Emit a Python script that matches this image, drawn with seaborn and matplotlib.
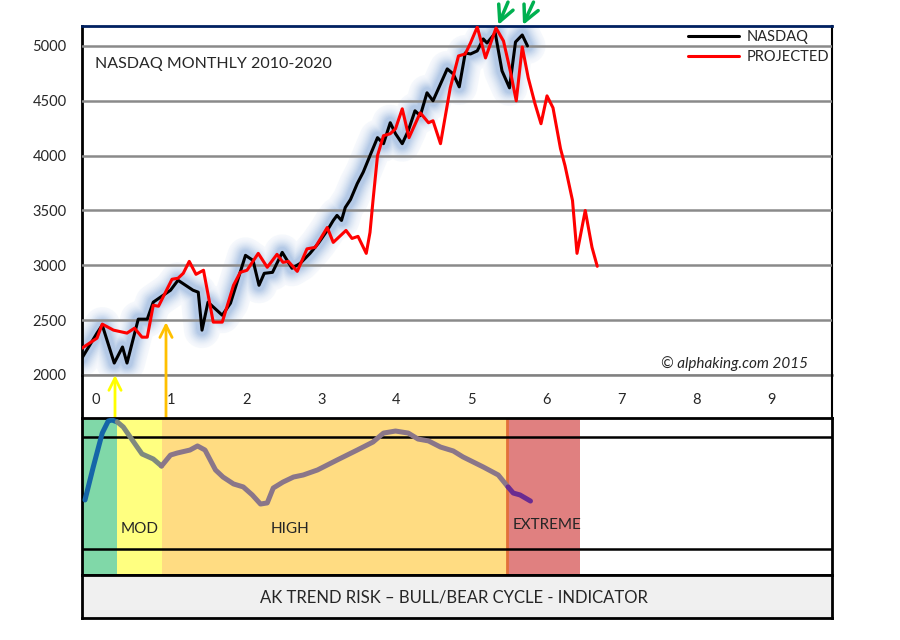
import numpy as np
import pandas as pd
import matplotlib.pyplot as plt
from matplotlib.colors import to_rgb
from matplotlib.ticker import MultipleLocator
import seaborn as sns

# ---- data (x in years from 2010, y = index level) ----
nasdaq_x = [-0.19, 0.01, 0.08, 0.24, 0.35, 0.41, 0.56, 0.68, 0.76, 0.99, 1.09, 1.29, 1.36,
            1.41, 1.49, 1.68, 1.79, 1.99, 2.09, 2.17, 2.24, 2.35, 2.48, 2.61, 2.72, 2.85,
            2.96, 3.08, 3.16, 3.21, 3.27, 3.32, 3.39, 3.48, 3.56, 3.65, 3.75, 3.83, 3.92,
            3.99, 4.08, 4.16, 4.25, 4.32, 4.41, 4.49, 4.68, 4.76, 4.84, 4.92, 4.99, 5.08,
            5.16, 5.21, 5.32, 5.41, 5.51, 5.59, 5.68, 5.75]
nasdaq_y = [2155, 2382, 2455, 2109, 2255, 2109, 2509, 2509, 2664, 2773, 2864, 2773, 2755,
            2409, 2664, 2545, 2655, 3091, 3045, 2818, 2927, 2936, 3118, 2973, 3018, 3109,
            3200, 3318, 3409, 3455, 3409, 3527, 3600, 3745, 3850, 4000, 4164, 4109, 4300,
            4200, 4109, 4227, 4409, 4364, 4573, 4500, 4791, 4745, 4627, 4936, 4927, 4955,
            5064, 5027, 5118, 4773, 4618, 5036, 5100, 5000]

proj_x = [-0.19, 0.01, 0.08, 0.23, 0.41, 0.51, 0.61, 0.68, 0.76, 0.83, 1.01, 1.09, 1.16,
          1.24, 1.33, 1.43, 1.56, 1.68, 1.83, 1.92, 2.01, 2.16, 2.28, 2.41, 2.49, 2.56,
          2.68, 2.81, 2.92, 3.08, 3.16, 3.33, 3.41, 3.49, 3.60, 3.65, 3.69, 3.75, 3.83,
          3.92, 3.99, 4.08, 4.17, 4.32, 4.43, 4.49, 4.59, 4.72, 4.83, 4.92, 4.99, 5.08,
          5.19, 5.33, 5.43, 5.52, 5.60, 5.68, 5.76, 5.85, 5.93, 6.01, 6.09, 6.19, 6.25,
          6.35, 6.41, 6.52, 6.61, 6.68]
proj_y = [2245, 2336, 2464, 2409, 2382, 2427, 2345, 2345, 2636, 2627, 2873, 2882, 2927,
          3036, 2918, 2955, 2482, 2482, 2818, 2936, 2955, 3109, 2982, 3100, 3027, 3036,
          2945, 3150, 3164, 3345, 3209, 3318, 3245, 3264, 3109, 3300, 3591, 4000, 4182,
          4200, 4245, 4427, 4164, 4391, 4300, 4318, 4109, 4618, 4909, 4927, 5027, 5173,
          4891, 5164, 5045, 4773, 4500, 4991, 4709, 4473, 4291, 4545, 4436, 4064, 3909,
          3591, 3109, 3500, 3164, 2991]

# trend-risk indicator (0 = bottom of panel, 100 = top)
ind_low_x = [-0.15, -0.04, 0.08, 0.16, 0.21, 0.28]
ind_low_y = [47.8, 68.8, 90.4, 98.1, 98.7, 97.5]
ind_mod_x = [0.28, 0.36, 0.48, 0.61, 0.76, 0.87]
ind_mod_y = [97.5, 94.3, 86.0, 77.1, 73.9, 69.4]
ind_high_x = [0.87, 0.99, 1.08, 1.25, 1.35, 1.45, 1.59, 1.69, 1.83, 1.96, 2.08, 2.19, 2.28,
              2.36, 2.49, 2.63, 2.76, 2.95, 3.21, 3.48, 3.69, 3.83, 3.99, 4.16, 4.29, 4.43,
              4.59, 4.76, 4.89, 5.16, 5.36, 5.49]
ind_high_y = [69.4, 76.4, 77.7, 79.6, 82.2, 79.6, 66.9, 62.4, 58.0, 56.1, 51.0, 45.2, 45.9,
              55.4, 59.2, 62.4, 63.7, 66.9, 73.2, 79.6, 84.7, 90.4, 91.7, 90.4, 86.6, 85.4,
              81.5, 79.0, 75.2, 68.8, 63.7, 56.1]
ind_ext_x = [5.49, 5.56, 5.65, 5.79]
ind_ext_y = [56.1, 52.2, 51.0, 47.1]

zone_edges = [-0.19, 0.28, 0.88, 5.47, 6.45]
zone_colors = ['#80d8a8', '#ffff80', '#ffdc82', '#e08080']
zone_labels = [('MOD', 0.33, 29), ('HIGH', 2.32, 29), ('EXTREME', 5.55, 32)]

x_ticks = list(range(10))
y_ticks = [2000, 2500, 3000, 3500, 4000, 4500, 5000]

sns.set_style("white")
plt.rcParams['font.family'] = ['Lato', 'DejaVu Sans']

fig = plt.figure(figsize=(9, 6.4), dpi=100)
L, W = 82 / 900, 750 / 900
ax = fig.add_axes([L, 265 / 640, W, 349 / 640])
axx = fig.add_axes([L, 222 / 640, W, 43 / 640])
axi = fig.add_axes([L, 65 / 640, W, 157 / 640])
axb = fig.add_axes([L, 22 / 640, W, 43 / 640])

xlim = (-0.19, 9.81)

# ---- main price chart ----
# soft blue glow under the NASDAQ line: many layers, wide/pale -> narrow/stronger
glow = np.array(to_rgb('#b4c9e6'))
n_layers = 12
for k in range(n_layers):
    t = k / (n_layers - 1)
    lw = 26 - 18 * t
    col = 1 - (1 - glow) * (0.12 + 0.88 * t ** 1.6)
    ax.plot(nasdaq_x, nasdaq_y, color=tuple(col), lw=lw,
            solid_capstyle='round', solid_joinstyle='round', zorder=2)
sns.lineplot(x=nasdaq_x, y=nasdaq_y, ax=ax, color='black', lw=2.2, label='NASDAQ', zorder=4)
sns.lineplot(x=proj_x, y=proj_y, ax=ax, color='red', lw=2.2, label='PROJECTED', zorder=5)

ax.set_xlim(*xlim)
ax.set_ylim(2000, 5182)
ax.set_yticks(y_ticks)
ax.set_xticks(x_ticks)
ax.xaxis.set_minor_locator(MultipleLocator(0.1))
ax.yaxis.grid(True, color='#8a8a8a', lw=1.8)
ax.set_axisbelow(False)   # grid drawn over the glow, under the lines
ax.tick_params(axis='y', length=5, width=1.5, color='#808080', pad=6, labelsize=10.5)
ax.tick_params(axis='x', which='both', direction='in', length=4, width=1, color='#999999',
               pad=13, labelsize=10.5)
for s, c, w in [('left', 'black', 2), ('right', 'black', 1.5), ('top', '#002060', 2),
                ('bottom', '#808080', 1.8)]:
    ax.spines[s].set_color(c)
    ax.spines[s].set_linewidth(w)
ax.set_xlabel('')
ax.set_ylabel('')

ax.text(13 / 750, 0.891, 'NASDAQ MONTHLY 2010-2020', transform=ax.transAxes,
        fontsize=11.5, va='center', ha='left')
ax.text(0.968, 0.034, '© alphaking.com 2015', transform=ax.transAxes, fontsize=11,
        style='italic', va='center', ha='right')
ax.legend(loc='upper right', bbox_to_anchor=(1.014, 1.025), frameon=False, handlelength=3.5,
          fontsize=10.5, labelspacing=0.4, handletextpad=0.5)

# arrows
arrow_kw = dict(arrowstyle='->', lw=2, mutation_scale=22, shrinkA=0, shrinkB=0)
ax.annotate('', xy=(0.25, 2000), xytext=(0.25, 1590), annotation_clip=False, zorder=10,
            arrowprops=dict(color='#ffff00', **arrow_kw))
ax.annotate('', xy=(0.93, 2482), xytext=(0.93, 1609), annotation_clip=False, zorder=10,
            arrowprops=dict(color='#ffc000', **arrow_kw))
for tip, tail in [((5.36, 5191), (5.49, 5400)), ((5.69, 5191), (5.83, 5400))]:
    ax.annotate('', xy=tip, xytext=tail, annotation_clip=False, zorder=10,
                arrowprops=dict(arrowstyle='->', color='#00b050', lw=2.5, mutation_scale=28,
                                shrinkA=0, shrinkB=0))

# ---- tick label strip ----
axx.set_xlim(*xlim)
axx.patch.set_visible(False)
axx.set_xticks([])
axx.set_yticks([])
for s in ['top', 'bottom']:
    axx.spines[s].set_visible(False)
axx.spines['left'].set_color('black')
axx.spines['left'].set_linewidth(2)
axx.spines['right'].set_color('black')
axx.spines['right'].set_linewidth(1.5)

# ---- indicator panel ----
axi.set_xlim(*xlim)
axi.set_ylim(0, 100)
for i, c in enumerate(zone_colors):
    axi.axvspan(zone_edges[i], zone_edges[i + 1], color=c, lw=0, zorder=0)
axi.axvline(zone_edges[3], color='#e2703a', lw=2, zorder=1)
axi.axhline(87.9, color='black', lw=1.8, zorder=2)
axi.axhline(16.6, color='black', lw=1.8, zorder=2)
for xs, ys, c in [(ind_low_x, ind_low_y, '#1565a8'), (ind_mod_x, ind_mod_y, '#7f8a7f'),
                  (ind_high_x, ind_high_y, '#8a7689'), (ind_ext_x, ind_ext_y, '#6a2c91')]:
    sns.lineplot(x=xs, y=ys, ax=axi, color=c, lw=3.6, zorder=3,
                 solid_capstyle='round', solid_joinstyle='round')
for txt, xp, yp in zone_labels:
    axi.text(xp, yp, txt, fontsize=11, va='center', ha='left')
axi.set_xticks([])
axi.set_yticks([])
for s in axi.spines.values():
    s.set_color('black')
    s.set_linewidth(2)

# ---- caption box ----
axb.set_facecolor('#f0f0f0')
axb.set_xticks([])
axb.set_yticks([])
for s in axb.spines.values():
    s.set_color('black')
    s.set_linewidth(2)
axb.text(0.496, 0.47, 'AK TREND RISK – BULL/BEAR CYCLE - INDICATOR', transform=axb.transAxes,
         fontsize=12, ha='center', va='center')

fig.savefig('out.png', dpi=100)
